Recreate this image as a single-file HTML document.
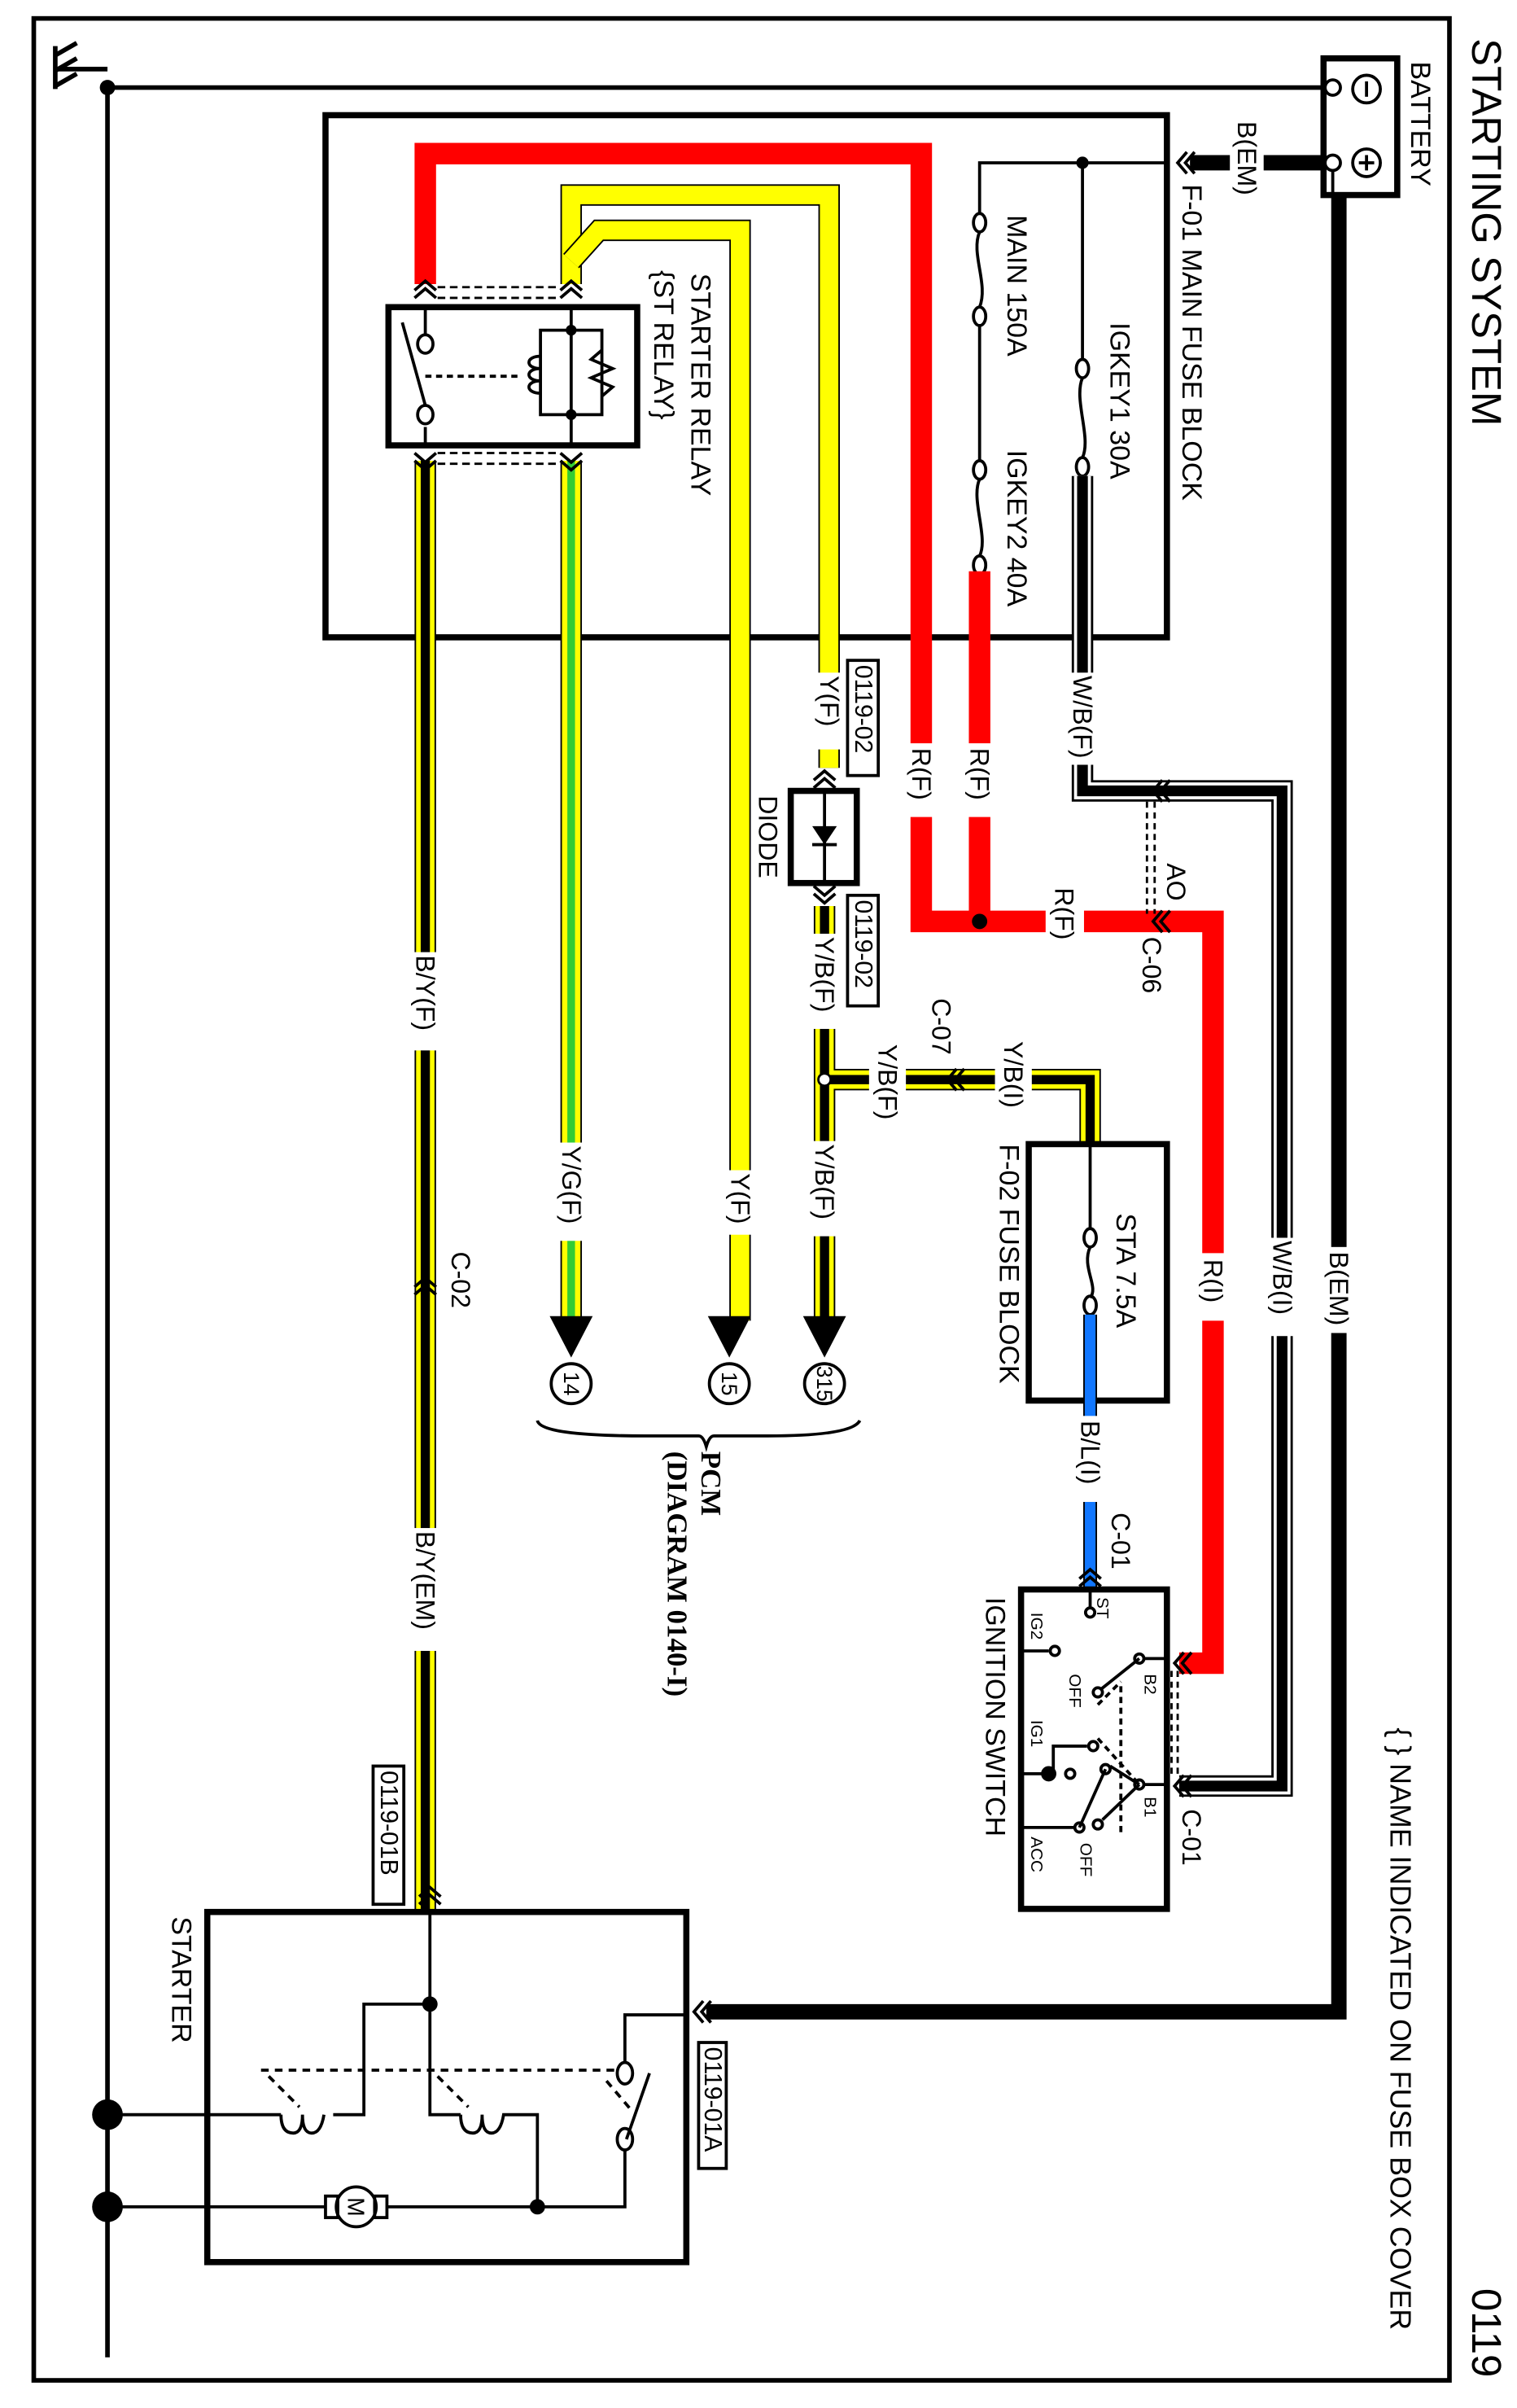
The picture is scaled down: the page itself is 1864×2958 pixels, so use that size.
<!DOCTYPE html>
<html><head><meta charset="utf-8"><style>html,body{margin:0;padding:0;background:#fff}svg{display:block}text{font-family:"Liberation Sans",sans-serif;fill:#000}.c{dominant-baseline:central}</style></head><body>
<svg width="1864" height="2958" viewBox="0 0 988 1568" preserveAspectRatio="none" xmlns="http://www.w3.org/2000/svg">
<defs>
<g id="chv"><path d="M-7,3 L0,-3 L7,3 M-7,8 L0,2 L7,8" fill="none" stroke="#000" stroke-width="2"/></g>
</defs>
<rect x="22" y="12" width="922" height="1538" fill="none" stroke="#000" stroke-width="3"/>
<g font-size="27"><text class="c" transform="translate(968,25) rotate(90)">STARTING SYSTEM</text><text class="c" transform="translate(968,1490) rotate(90)">0119</text></g>
<text class="c" transform="translate(912,1125) rotate(90)" font-size="19">{ } NAME INDICATED ON FUSE BOX COVER</text>

<g stroke="#000" stroke-width="3" fill="none">
<path d="M70,57 V1535"/><path d="M36,30 V58"/><path d="M36,36 L50,28 M36,46 L50,38 M36,56 L50,48"/>
<path d="M36,45 H70"/>
<path d="M70,57 H862"/>
</g>
<circle cx="70" cy="57" r="5"/>
<circle cx="70" cy="1377" r="10"/><circle cx="70" cy="1437" r="10"/>

<rect x="862" y="38" width="48" height="89" fill="none" stroke="#000" stroke-width="4"/>
<circle cx="868" cy="57" r="5" fill="#fff" stroke="#000" stroke-width="2"/>
<circle cx="868" cy="106" r="5" fill="#fff" stroke="#000" stroke-width="2"/>
<circle cx="890" cy="58" r="9" fill="none" stroke="#000" stroke-width="2"/><path d="M890,53 V63" stroke="#000" stroke-width="2"/>
<circle cx="890" cy="106" r="9" fill="none" stroke="#000" stroke-width="2"/><path d="M890,101 V111 M885,106 H895" stroke="#000" stroke-width="2"/>
<text class="c" transform="translate(925,40) rotate(90)" font-size="18">BATTERY</text>
<path d="M863,106 H775" stroke="#000" stroke-width="10"/>
<rect x="801" y="78" width="22" height="52" fill="#fff"/>
<text class="c" transform="translate(812,79) rotate(90)" font-size="17">B(EM)</text>
<path d="M868,111 V127" stroke="#000" stroke-width="2"/>
<path d="M872,127 V1310 H460" stroke="#000" stroke-width="10" fill="none"/>
<rect x="861" y="812" width="22" height="56" fill="#fff"/>
<text class="c" transform="translate(872,815) rotate(90)" font-size="17">B(EM)</text>

<rect x="212" y="75" width="548" height="340" fill="none" stroke="#000" stroke-width="4"/>
<text class="c" transform="translate(776,120) rotate(90)" font-size="18">F-01  MAIN FUSE BLOCK</text>
<g transform="translate(770,106) rotate(-90)"><use href="#chv"/></g>
<path d="M760,106 H638 V140" stroke="#000" stroke-width="2" fill="none"/>
<circle cx="705" cy="106" r="4"/>
<path d="M705,106 V235" stroke="#000" stroke-width="2"/>
<g fill="none" stroke="#000" stroke-width="2">
<ellipse cx="638" cy="145" rx="4" ry="6"/><path d="M638,151 C632,165 644,185 638,200"/><ellipse cx="638" cy="206" rx="4" ry="6"/><path d="M638,212 V300"/>
<ellipse cx="638" cy="306" rx="4" ry="6"/><path d="M638,312 C632,325 644,350 638,362"/><ellipse cx="638" cy="368" rx="4" ry="6"/>
<ellipse cx="705" cy="240" rx="4" ry="6"/><path d="M705,246 C699,260 711,285 705,298"/><ellipse cx="705" cy="304" rx="4" ry="6"/>
</g>
<text class="c" transform="translate(662,140) rotate(90)" font-size="18">MAIN  150A</text>
<text class="c" transform="translate(729,210) rotate(90)" font-size="18">IGKEY1  30A</text>
<text class="c" transform="translate(662,293) rotate(90)" font-size="18">IGKEY2  40A</text>

<path d="M705,310 V515 H835 V1163 H768" fill="none" stroke="#000" stroke-width="14"/>
<path d="M705,310 V515 H835 V1163 H768" fill="none" stroke="#fff" stroke-width="11"/>
<path d="M705,310 V515 H835 V1163 H768" fill="none" stroke="#000" stroke-width="7"/>
<rect x="692" y="438" width="26" height="60" fill="#fff"/>
<text class="c" transform="translate(705,440) rotate(90)" font-size="17">W/B(F)</text>
<rect x="822" y="806" width="26" height="64" fill="#fff"/>
<text class="c" transform="translate(835,808) rotate(90)" font-size="17">W/B(I)</text>

<path d="M277,185 V100 H600 V600 H790 V1083 H768" fill="none" stroke="#f00" stroke-width="14"/>
<path d="M638,372 V600" stroke="#f00" stroke-width="14"/>
<circle cx="638" cy="600" r="5"/>
<rect x="588" y="484" width="24" height="48" fill="#fff"/><text class="c" transform="translate(600,487) rotate(90)" font-size="17">R(F)</text>
<rect x="626" y="484" width="24" height="48" fill="#fff"/><text class="c" transform="translate(638,487) rotate(90)" font-size="17">R(F)</text>
<rect x="681" y="590" width="25" height="22" fill="#fff"/><text class="c" transform="translate(693,578) rotate(90)" font-size="17">R(F)</text>
<rect x="778" y="816" width="24" height="44" fill="#fff"/><text class="c" transform="translate(790,820) rotate(90)" font-size="17">R(I)</text>
<g transform="translate(754,600) rotate(-90)"><use href="#chv"/></g>
<g transform="translate(754,515) rotate(-90)"><use href="#chv"/></g>
<path d="M747,522 V595 M752,522 V595" stroke="#000" stroke-width="1.5" stroke-dasharray="4,3"/>
<text class="c" transform="translate(766,562) rotate(90)" font-size="17">AO</text>
<text class="c" transform="translate(750,610) rotate(90)" font-size="17">C-06</text>

<path d="M372,185 V127 H540 V500" fill="none" stroke="#000" stroke-width="14"/>
<path d="M372,185 V127 H540 V500" fill="none" stroke="#ff0" stroke-width="12"/>
<path d="M372,170 L390,150 H482 V860" fill="none" stroke="#000" stroke-width="14"/>
<path d="M372,170 L390,150 H482 V860" fill="none" stroke="#ff0" stroke-width="12"/>
<rect x="528" y="438" width="24" height="50" fill="#fff"/><text class="c" transform="translate(540,440) rotate(90)" font-size="17">Y(F)</text>
<rect x="470" y="762" width="24" height="42" fill="#fff"/><text class="c" transform="translate(482,764) rotate(90)" font-size="17">Y(F)</text>
<rect x="552" y="430" width="20" height="75" fill="#fff" stroke="#000" stroke-width="2"/><text class="c" transform="translate(562,433) rotate(90)" font-size="16">0119-02</text>

<path d="M372,300 V860" stroke="#000" stroke-width="14"/><path d="M372,300 V860" stroke="#ff0" stroke-width="12"/><path d="M372,300 V860" stroke="#3c3" stroke-width="5"/>
<rect x="360" y="744" width="24" height="64" fill="#fff"/><text class="c" transform="translate(372,746) rotate(90)" font-size="17">Y/G(F)</text>

<path d="M277,300 V1245" stroke="#000" stroke-width="14"/><path d="M277,300 V1245" stroke="#ff0" stroke-width="12"/><path d="M277,300 V1245" stroke="#000" stroke-width="6"/>
<rect x="265" y="620" width="24" height="64" fill="#fff"/><text class="c" transform="translate(277,622) rotate(90)" font-size="17">B/Y(F)</text>
<rect x="265" y="995" width="24" height="80" fill="#fff"/><text class="c" transform="translate(277,997) rotate(90)" font-size="17">B/Y(EM)</text>
<g transform="translate(277,835)"><use href="#chv"/></g>
<text class="c" transform="translate(300,815) rotate(90)" font-size="17">C-02</text>

<g transform="translate(277,186)"><use href="#chv"/></g><g transform="translate(372,186)"><use href="#chv"/></g>
<g transform="translate(277,303) rotate(180)"><use href="#chv"/></g><g transform="translate(372,303) rotate(180)"><use href="#chv"/></g>
<path d="M285,187 H365 M285,194 H365 M285,295 H365 M285,302 H365" stroke="#000" stroke-width="1.5" stroke-dasharray="5,3"/>
<rect x="253" y="200" width="162" height="90" fill="#fff" stroke="#000" stroke-width="4"/>
<g fill="none" stroke="#000" stroke-width="2">
<path d="M277,200 V218 M277,278 V290"/><ellipse cx="277" cy="224" rx="5" ry="6"/><ellipse cx="277" cy="270" rx="5" ry="6"/>
<path d="M262,210 L277,264"/><path d="M277,245 H340" stroke-dasharray="4,3"/>
<path d="M372,200 V290 M372,215 H352 V270 H372 M372,215 H392 V270 H372"/>
<path d="M352,232 c-10,0 -10,8 0,8 c-10,0 -10,8 0,8 c-10,0 -10,8 0,8"/>
<path d="M392,228 l-7,6 l14,6 l-14,6 l14,6 l-7,6"/>
</g>
<circle cx="372" cy="215" r="3.5"/><circle cx="372" cy="270" r="3.5"/>
<text class="c" transform="translate(456,178) rotate(90)" font-size="18">STARTER RELAY</text>
<text class="c" transform="translate(432,176) rotate(90)" font-size="18">{ST RELAY}</text>

<g transform="translate(537,505)"><use href="#chv"/></g>
<rect x="515" y="515" width="43" height="60" fill="#fff" stroke="#000" stroke-width="4"/>
<path d="M537,515 V575" stroke="#000" stroke-width="2"/><path d="M529,538 H545 L537,550 Z" fill="#000"/><path d="M529,550 H545" stroke="#000" stroke-width="2"/>
<text class="c" transform="translate(500,518) rotate(90)" font-size="17">DIODE</text>
<g transform="translate(537,585) rotate(180)"><use href="#chv"/></g>
<rect x="552" y="583" width="20" height="72" fill="#fff" stroke="#000" stroke-width="2"/><text class="c" transform="translate(562,586) rotate(90)" font-size="16">0119-02</text>

<path d="M537,590 V860 M537,703 H710 V800" fill="none" stroke="#000" stroke-width="14"/>
<path d="M537,590 V860 M537,703 H710 V800" fill="none" stroke="#ff0" stroke-width="12"/>
<path d="M537,590 V860 M537,703 H710 V800" fill="none" stroke="#000" stroke-width="6"/>
<circle cx="537" cy="703" r="4" fill="#fff" stroke="#000" stroke-width="1.5"/>
<rect x="525" y="608" width="24" height="62" fill="#fff"/><text class="c" transform="translate(537,610) rotate(90)" font-size="17">Y/B(F)</text>
<rect x="525" y="743" width="24" height="62" fill="#fff"/><text class="c" transform="translate(537,745) rotate(90)" font-size="17">Y/B(F)</text>
<rect x="566" y="692" width="24" height="22" fill="#fff"/><text class="c" transform="translate(578,680) rotate(90)" font-size="17">Y/B(F)</text>
<rect x="648" y="692" width="24" height="22" fill="#fff"/><text class="c" transform="translate(660,678) rotate(90)" font-size="17">Y/B(I)</text>
<text class="c" transform="translate(613,650) rotate(90)" font-size="17">C-07</text>
<g transform="translate(620,703) rotate(-90)"><use href="#chv"/></g>

<rect x="670" y="745" width="90" height="167" fill="#fff" stroke="#000" stroke-width="4"/>
<path d="M710,745 V800" stroke="#000" stroke-width="2"/>
<g fill="none" stroke="#000" stroke-width="2"><ellipse cx="710" cy="806" rx="4" ry="6"/><path d="M710,812 C704,825 716,838 710,845"/><ellipse cx="710" cy="850" rx="4" ry="6"/></g>
<text class="c" transform="translate(733,790) rotate(90)" font-size="18">STA 7.5A</text>
<text class="c" transform="translate(657,745) rotate(90)" font-size="18">F-02  FUSE BLOCK</text>
<path d="M710,856 V1040" stroke="#000" stroke-width="9"/><path d="M710,856 V1040" stroke="#17f" stroke-width="7"/>
<rect x="698" y="922" width="24" height="56" fill="#fff"/><text class="c" transform="translate(710,925) rotate(90)" font-size="17">B/L(I)</text>
<g transform="translate(710,1025)"><use href="#chv"/></g>
<text class="c" transform="translate(730,985) rotate(90)" font-size="17">C-01</text>

<g fill="#000"><path d="M358,857 H386 L372,884 Z"/><path d="M461,857 H489 L475,884 Z"/><path d="M523,857 H551 L537,884 Z"/></g>
<g fill="#fff" stroke="#000" stroke-width="2"><circle cx="372" cy="901" r="13"/><circle cx="475" cy="901" r="13"/><circle cx="537" cy="901" r="13"/></g>
<g font-size="14" text-anchor="middle"><text class="c" transform="translate(372,901) rotate(90)">14</text><text class="c" transform="translate(475,901) rotate(90)">15</text><text class="c" transform="translate(537,901) rotate(90)">315</text></g>
<path d="M350,925 Q352,935 420,935 L455,935 Q458,935 460,942 Q462,935 465,935 L500,935 Q555,935 560,925" fill="none" stroke="#000" stroke-width="2"/>
<text class="c" transform="translate(463,945) rotate(90)" font-size="18.5" style="font-family:'Liberation Serif',serif;font-weight:bold">PCM</text>
<text class="c" transform="translate(441,945) rotate(90)" font-size="18.5" style="font-family:'Liberation Serif',serif;font-weight:bold">(DIAGRAM 0140-I)</text>

<rect x="665" y="1035" width="95" height="208" fill="#fff" stroke="#000" stroke-width="4"/>
<g transform="translate(768,1083) rotate(-90)"><use href="#chv"/></g>
<g transform="translate(768,1163) rotate(-90)"><use href="#chv"/></g>
<path d="M763,1088 V1158 M767,1088 V1158" stroke="#000" stroke-width="1.5" stroke-dasharray="4,3"/>
<text class="c" transform="translate(776,1178) rotate(90)" font-size="17">C-01</text>
<g fill="none" stroke="#000" stroke-width="2">
<path d="M710,1035 V1048"/><circle cx="710" cy="1050" r="3"/>
<path d="M665,1075 H683"/><circle cx="687" cy="1075" r="3"/>
<path d="M760,1080 H745"/><circle cx="742" cy="1080" r="3"/><path d="M742,1080 L717,1100"/><circle cx="715" cy="1102" r="3"/>
<path d="M665,1155 H683"/><path d="M686,1155 V1137 H708"/><circle cx="712" cy="1137" r="3"/><circle cx="697" cy="1155" r="3"/>
<path d="M760,1162 H745"/><circle cx="742" cy="1162" r="3"/><path d="M742,1162 L718,1185"/><path d="M742,1162 L723,1150"/><circle cx="720" cy="1152" r="3"/>
<path d="M665,1190 H700"/><circle cx="703" cy="1190" r="3"/><path d="M720,1152 L703,1190"/><circle cx="715" cy="1188" r="3"/>
<path d="M730,1098 V1195 M715,1110 L730,1095 M715,1132 L742,1162" stroke-dasharray="4,3"/>
</g>
<circle cx="683" cy="1155" r="5"/>
<g font-size="11"><text class="c" transform="translate(718,1040) rotate(90)">ST</text><text class="c" transform="translate(675,1050) rotate(90)">IG2</text><text class="c" transform="translate(749,1090) rotate(90)">B2</text><text class="c" transform="translate(700,1090) rotate(90)">OFF</text><text class="c" transform="translate(675,1120) rotate(90)">IG1</text><text class="c" transform="translate(749,1170) rotate(90)">B1</text><text class="c" transform="translate(675,1196) rotate(90)">ACC</text><text class="c" transform="translate(707,1200) rotate(90)">OFF</text></g>
<text class="c" transform="translate(648,1040) rotate(90)" font-size="18">IGNITION SWITCH</text>

<rect x="243" y="1150" width="20" height="90" fill="#fff" stroke="#000" stroke-width="2"/><text class="c" transform="translate(253,1153) rotate(90)" font-size="16">0119-01B</text>
<g transform="translate(280,1232)"><use href="#chv"/></g>
<g transform="translate(455,1310) rotate(-90)"><use href="#chv"/></g>
<rect x="455" y="1330" width="18" height="82" fill="#fff" stroke="#000" stroke-width="2"/><text class="c" transform="translate(464,1333) rotate(90)" font-size="16">0119-01A</text>
<rect x="135" y="1245" width="312" height="228" fill="#fff" stroke="#000" stroke-width="4"/>
<text class="c" transform="translate(118,1248) rotate(90)" font-size="18">STARTER</text>
<g fill="none" stroke="#000" stroke-width="2">
<path d="M280,1245 V1377 H300"/><path d="M280,1305 H237 V1377 H217"/>
<path d="M70,1377 H183"/>
<path d="M183,1377 q0,12 8,12 q6,0 6,-12 q0,12 6,12 q6,0 8,-12"/>
<path d="M300,1377 q0,12 8,12 q6,0 6,-12 q0,12 6,12 q6,0 8,-12 H350 V1437"/>
<path d="M70,1437 H212 M252,1437 H407 V1400"/>
<rect x="212" y="1430" width="8" height="14"/><rect x="244" y="1430" width="8" height="14"/>
<circle cx="232" cy="1437" r="13"/>
<ellipse cx="407" cy="1393" rx="5" ry="7"/><ellipse cx="407" cy="1350" rx="5" ry="7"/>
<path d="M407,1343 V1312 H447"/><path d="M423,1350 L408,1393"/>
<path d="M170,1348 H400 M175,1352 L195,1372 M285,1352 L305,1372 M395,1355 L412,1375" stroke-dasharray="5,4"/>
</g>
<text class="c" font-size="15" text-anchor="middle" transform="translate(232,1437) rotate(90)">M</text>
<circle cx="280" cy="1305" r="5"/><circle cx="350" cy="1437" r="5"/>
</svg>
</body></html>
